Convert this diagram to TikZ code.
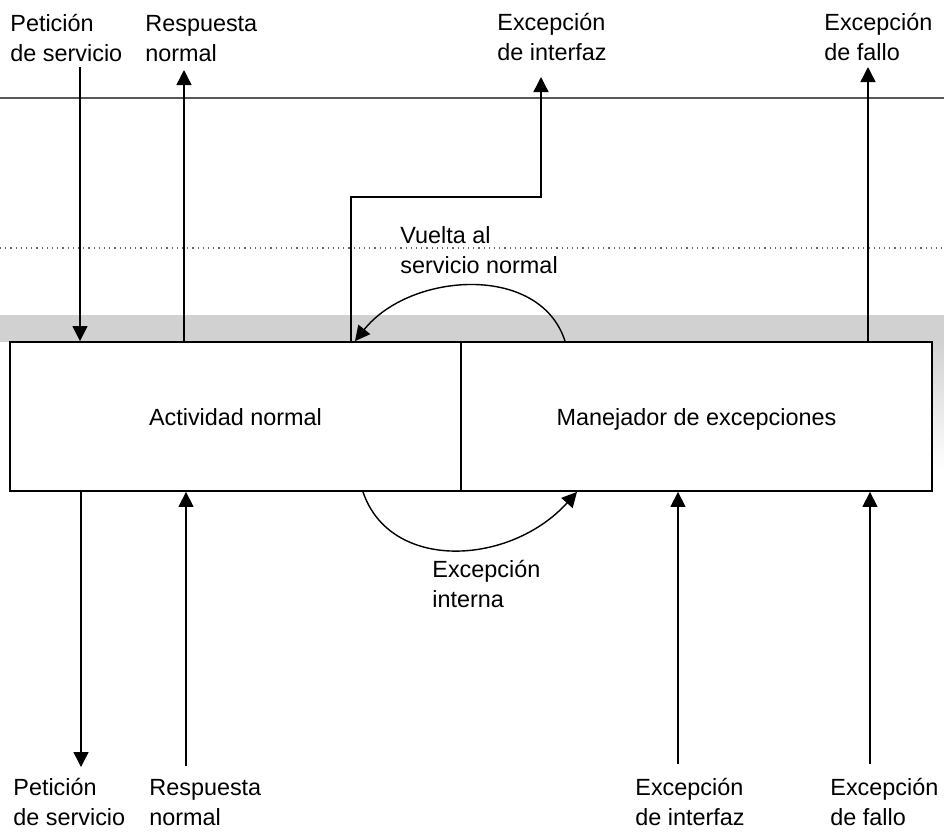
\documentclass[tikz,border=0pt]{standalone}
\usepackage{fontspec}
\setmainfont{Liberation Sans}
\usetikzlibrary{arrows.meta}
\begin{document}
\begin{tikzpicture}[x=0.5pt,y=-0.5pt,
  lbl/.style={anchor=base west,inner sep=0pt,align=left,
    font=\fontsize{11.7}{15}\selectfont},
  unit/.style={draw,line width=0.9pt,inner sep=0pt,minimum height=74.5pt,
    text height=10pt,text depth=1.5pt,
    font=\fontsize{11.7}{15}\selectfont},
  flow/.style={line width=0.7pt,-{Triangle[length=7.5pt,width=7.5pt]}},
  plain/.style={line width=0.7pt}]
\useasboundingbox (0,0) rectangle (944,832);

% shaded strip along the top edge of the component
\fill[black!18] (0,315) rectangle (944,342);
\shade[top color=black!18,bottom color=white] (932,342) rectangle (944,470);

% interface levels
\draw[black!65,line width=0.6pt] (0,98) -- (944,98);
\draw[black!60,dotted,line width=0.6pt] (0,248) -- (944,248);

% the two halves of the component
\node[unit,minimum width=225.5pt] (act) at (235.5,416.5) {Actividad normal};
\node[unit,minimum width=235.5pt] (man) at (696.5,416.5) {Manejador de excepciones};

% labels above (anchored on the baseline of their last line)
\node[lbl] (tpet) at (10,61) {Petición\\de servicio};
\node[lbl] (tres) at (145,61) {Respuesta\\normal};
\node[lbl] (tifc) at (497,60) {Excepción\\de interfaz};
\node[lbl] (tfal) at (824,60) {Excepción\\de fallo};
\node[lbl] (vuel) at (400,273) {Vuelta al\\servicio normal};
\node[lbl] (intn) at (432,607) {Excepción\\interna};

% labels below
\node[lbl] (bpet) at (13,825) {Petición\\de servicio};
\node[lbl] (bres) at (149,825) {Respuesta\\normal};
\node[lbl] (bifc) at (635,825) {Excepción\\de interfaz};
\node[lbl] (bfal) at (830,825) {Excepción\\de fallo};

% free ends of the connectors
\coordinate (pin)   at (80,67);
\coordinate (rout)  at (184,70);
\coordinate (ibend) at (351,197);
\coordinate (iout)  at (541,77);
\coordinate (fout)  at (868,67);
\coordinate (pout)  at (81,767);
\coordinate (rin)   at (186,766);
\coordinate (iin)   at (678,764);
\coordinate (fin)   at (870,764);
\coordinate (vs)    at (565,0);
\coordinate (ve)    at (355,0);
\coordinate (es)    at (363,0);
\coordinate (ee)    at (577,0);

% upper interface
\draw[flow] (pin) -- (pin |- act.north);
\draw[flow] (rout |- act.north) -- (rout);
\draw[flow] (ibend |- act.north) -- (ibend) -| (iout);
\draw[flow] (fout |- man.north) -- (fout);

% internal transfers
\draw[flow] (vs |- man.north) .. controls (540,263) and (410,272) .. (ve |- act.north);
\draw[flow] (es |- act.south) .. controls (390,572) and (510,566) .. (ee |- man.south);

% lower interface
\draw[flow] (pout |- act.south) -- (pout);
\draw[flow] (rin) -- (rin |- act.south);
\draw[flow] (iin) -- (iin |- man.south);
\draw[flow] (fin) -- (fin |- man.south);
\end{tikzpicture}
\end{document}
